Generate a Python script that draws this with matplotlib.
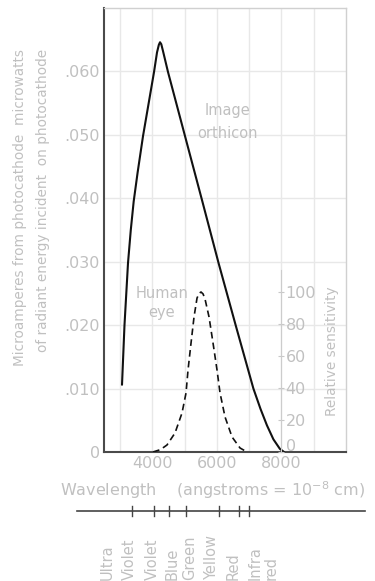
import matplotlib
matplotlib.use("Agg")
import matplotlib.pyplot as plt
from matplotlib.transforms import ScaledTranslation

# ---- data ----
orth_wl = [3058, 3135, 3244, 3330, 3420, 3540, 3709, 4050, 4143, 4200, 4236, 4275, 4329, 4484,
           5011, 5538, 6050, 6580, 7130, 7350, 7550, 7750, 7950, 8080]
orth_val = [0.0106, 0.0200, 0.0298, 0.0350, 0.0395, 0.0440, 0.0498, 0.0599, 0.0630, 0.0642, 0.0646,
            0.0643, 0.0632, 0.0599, 0.0498, 0.0397, 0.0298, 0.0200, 0.0100, 0.0068, 0.0042,
            0.0020, 0.0005, 0.0]

eye_wl = [4019, 4250, 4453, 4701, 4918, 5042, 5104, 5197, 5290, 5383, 5450, 5507, 5570, 5631,
          5755, 5879, 6003, 6096, 6251, 6468, 6716, 6933]
eye_rel = [0, 1.5, 4.4, 11.9, 24.4, 36.9, 51.2, 68.1, 84.4, 96.2, 99.2, 100, 98.8, 95.6,
           84.4, 68.1, 51.2, 36.9, 21.9, 9.4, 2.5, 0]

x_ticks = [4000, 6000, 8000]
y_ticks = [0, 0.010, 0.020, 0.030, 0.040, 0.050, 0.060]
y_ticklabels = ["0", ".010", ".020", ".030", ".040", ".050", ".060"]
rel_ticks = [0, 20, 40, 60, 80, 100]

band_edges = [3370, 4050, 4510, 5040, 6060, 6680, 6990]
band_labels = ["Ultra", "Violet", "Violet", "Blue", "Green", "Yellow", "Red", "Infra", "red"]
band_label_px = [107, 129, 152, 172, 190, 212, 233, 255, 271]

TXT = "#c0c0c0"
GRID = "#e8e8e8"
plt.rcParams['font.family'] = ['DejaVu Sans']

W, H = 375, 581
fig = plt.figure(figsize=(W / 100, H / 100), dpi=100)
L, R, T, B = 104, 346, 8, 452
ax = fig.add_axes([L / W, 1 - B / H, (R - L) / W, (B - T) / H])
ax.set_xlim(2500, 10000)
ax.set_ylim(0, 0.070)

for gx in range(3000, 10000, 1000):
    ax.axvline(gx, color=GRID, lw=1.0, zorder=0)
for gy in y_ticks[1:]:
    ax.axhline(gy, color=GRID, lw=1.0, zorder=0)

ax.plot(orth_wl, orth_val, color="#111111", lw=1.5, solid_capstyle="round",
        solid_joinstyle="round", zorder=3)

ax.set_xticks(x_ticks)
ax.set_xticklabels([str(v) for v in x_ticks], color=TXT, fontsize=11.5)
ax.set_yticks(y_ticks)
ax.set_yticklabels(y_ticklabels, color=TXT, fontsize=11.5)
ax.tick_params(axis="both", length=0, pad=3)
for side in ["left", "bottom"]:
    ax.spines[side].set_color("#4a4a4a")
    ax.spines[side].set_linewidth(1.5)
for side in ["top", "right"]:
    ax.spines[side].set_color("#d0d0d0")
    ax.spines[side].set_linewidth(1.0)

# relative sensitivity axis
ax2 = ax.twinx()
ax2.set_ylim(0, 100 * (B - T) / 160.0)
ax2.plot(eye_wl, eye_rel, color="#111111", lw=1.2, ls=(0, (4, 2.5)), zorder=3)
for side in ["top", "left", "bottom"]:
    ax2.spines[side].set_visible(False)
ax2.spines["right"].set_position(("data", 8000))
ax2.spines["right"].set_bounds(0, 114)
ax2.spines["right"].set_color("#cccccc")
ax2.set_yticks(rel_ticks)
ax2.set_yticklabels([str(v) for v in rel_ticks], color=TXT, fontsize=11.5)
ax2.tick_params(axis="y", length=4, direction="inout", colors="#c8c8c8", labelcolor=TXT, pad=1)
# the "0" label sits a little above the baseline in the reference
lbl0 = ax2.get_yticklabels()[0]
lbl0.set_transform(lbl0.get_transform() + ScaledTranslation(0, 7 / 100, fig.dpi_scale_trans))

# annotations
fig.text(228 / W, 1 - 110 / H, "Image", color=TXT, fontsize=10.5, ha="center", va="center")
fig.text(228 / W, 1 - 133 / H, "orthicon", color=TXT, fontsize=10.5, ha="center", va="center")
fig.text(162 / W, 1 - 293 / H, "Human", color=TXT, fontsize=10.5, ha="center", va="center")
fig.text(162 / W, 1 - 312 / H, "eye", color=TXT, fontsize=10.5, ha="center", va="center")

# axis labels
fig.text(20 / W, 1 - 207 / H, "Microamperes from photocathode  microwatts", color=TXT,
         fontsize=9.8, rotation=90, ha="center", va="center")
fig.text(43 / W, 1 - 200 / H, "of radiant energy incident  on photocathode", color=TXT,
         fontsize=9.8, rotation=90, ha="center", va="center")
fig.text(332 / W, 1 - 351 / H, "Relative sensitivity", color=TXT,
         fontsize=9.8, rotation=90, ha="center", va="center")
fig.text(212 / W, 1 - 490 / H, "Wavelength    (angstroms = 10$^{-8}$ cm)", color=TXT,
         fontsize=11.5, ha="center", va="center")

# spectrum band axis
axb = fig.add_axes([0, 0, 1, 1], facecolor="none")
axb.set_xlim(0, W)
axb.set_ylim(H, 0)
axb.axis("off")
axb.plot([77, 365], [511, 511], color="#444444", lw=1.2)
xs_px = [L + (w - 2500) * (R - L) / 7500.0 for w in band_edges]
for xp in xs_px:
    axb.plot([xp, xp], [506, 516], color="#444444", lw=1.0)
for lab, xp in zip(band_labels, band_label_px):
    axb.text(xp, 580, lab, color=TXT, fontsize=10.5, rotation=90, ha="center", va="bottom")

fig.savefig("out.png", dpi=100)
